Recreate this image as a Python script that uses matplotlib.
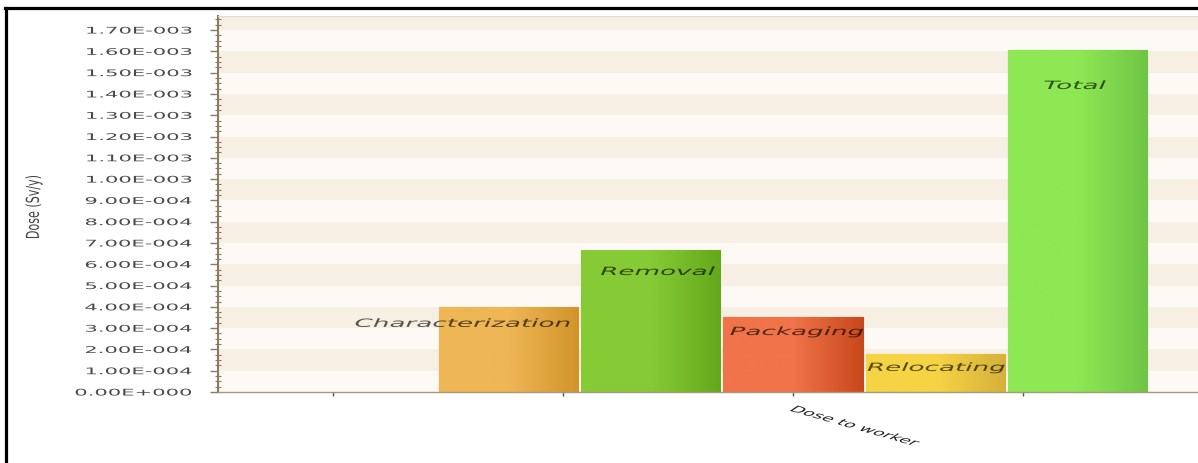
import numpy as np
import matplotlib
matplotlib.use("Agg")
import matplotlib.pyplot as plt
from matplotlib import patheffects
from matplotlib.colors import LinearSegmentedColormap
from matplotlib.lines import Line2D
from matplotlib.ticker import FixedLocator, MultipleLocator
from matplotlib.transforms import Affine2D

# --- data ---
categories = ["Dose to worker"]
stages = ["Characterization", "Removal", "Packaging", "Relocating", "Total"]
doses = [4.00e-4, 6.67e-4, 3.52e-4, 1.78e-4, 1.606e-3]
ytick_values = [i * 1e-4 for i in range(18)]
y_label = "Dose (Sv/y)"

# bar gradient colours (left, right)
grad_left = ["#EEB655", "#86CB36", "#F07349", "#F5D444", "#8DE853"]
grad_right = ["#D2942A", "#64A81B", "#C9491C", "#D5B13A", "#6FC646"]
edge_cols = ["#C28A2E", "#5E9E1C", "#BE4820", "#C9A636", "#6AAE4E"]

# where the in-bar labels sit (shift from bar centre, fraction of bar height)
label_dx = [-0.20, 0.03, 0.017, 0.005, -0.01]
label_frac = [0.80, 0.845, 0.80, 0.635, 0.895]


class Stretch(patheffects.AbstractPathEffect):
    """Stretch text in screen space (the reference image is squashed/stretched)."""

    def __init__(self, sx=1.0, sy=1.0, anchor="center"):
        super().__init__()
        self.sx, self.sy, self.anchor = sx, sy, anchor

    def draw_path(self, renderer, gc, tpath, affine, rgbFace=None):
        bb = tpath.get_extents(affine)
        if self.anchor == "right":
            x0, y0 = bb.x1, (bb.y0 + bb.y1) / 2
        elif self.anchor == "topleft":
            x0, y0 = bb.x0, bb.y1
        else:
            x0, y0 = (bb.x0 + bb.x1) / 2, (bb.y0 + bb.y1) / 2
        st = Affine2D().translate(-x0, -y0).scale(self.sx, self.sy).translate(x0, y0)
        renderer.draw_path(gc, tpath, affine + st, rgbFace)


def sci3(v):
    m, e = f"{v:.2E}".split("E")
    return f"{m}E{int(e):+04d}"


W, H = 1198, 464
fig = plt.figure(figsize=(W / 100, H / 100), dpi=100)
fig.patch.set_facecolor("white")
ax = fig.add_axes([218 / W, 71 / H, 1 - 218 / W, 376 / H])

ymax = 1.766e-3
ax.set_facecolor("#FDF9F4")
for lo in np.arange(1, 18, 2) * 1e-4:
    ax.axhspan(lo, lo + 1e-4, color="#F8EFE4", lw=0, zorder=0)

# bars with horizontal gradient
step, width = 0.618, 0.605
xs = [(i - (len(stages) - 1) / 2) * step for i in range(len(stages))]
for i, (x, v) in enumerate(zip(xs, doses)):
    bar = ax.bar(x, v, width=width, color=grad_right[i], edgecolor=edge_cols[i],
                 lw=0.8, zorder=2)[0]
    cmap = LinearSegmentedColormap.from_list("g", [grad_left[i], grad_left[i], grad_right[i]])
    im = ax.imshow(np.linspace(0, 1, 128).reshape(1, -1), cmap=cmap, aspect="auto",
                   extent=[x - width / 2, x + width / 2, 0, v], zorder=2.5,
                   interpolation="bilinear")
    im.set_clip_path(bar)
    ax.text(x + label_dx[i], v * label_frac[i], stages[i], style="italic",
            fontsize=8.2, color="black", alpha=0.65, ha="center", va="center",
            zorder=4, path_effects=[Stretch(2.3, 1.0)])

ax.set_xlim(-2.5, 1.761)
ax.set_ylim(0, ymax)

# y axis
ax.yaxis.set_major_locator(FixedLocator(ytick_values))
ax.set_yticklabels([sci3(v) for v in ytick_values])
ax.yaxis.set_minor_locator(MultipleLocator(2.5e-5))
ax.tick_params(axis="y", which="major", direction="out", length=5.8, width=1,
               color="#8C7B62", pad=13, labelsize=6.6, labelcolor="#4A4A4A")
ax.tick_params(axis="y", which="minor", direction="inout", length=4, width=0.8,
               color="#8C7B62")
for t in ax.get_yticklabels():
    t.set_path_effects([Stretch(2.3, 1.0, anchor="right")])

# x axis
ax.set_xticks([0])
ax.set_xticks([-2, -1, 1], minor=True)
ax.set_xticklabels(categories, rotation=-33, ha="left", va="top",
                   rotation_mode="anchor", fontsize=6.2, color="#222222")
ax.tick_params(axis="x", which="both", direction="out", length=3, width=1,
               color="#555555", pad=6)
for t in ax.get_xticklabels():
    t.set_path_effects([Stretch(2.3, 1.0, anchor="topleft")])

ax.spines["right"].set_visible(False)
ax.spines["left"].set_color("#8C7B62")
ax.spines["left"].set_linewidth(1.5)
ax.spines["bottom"].set_color("#A8987C")
ax.spines["bottom"].set_linewidth(1.0)
ax.spines["top"].set_color("#E4DACA")
ax.spines["top"].set_linewidth(0.8)

fig.text(34 / W, 1 - 208 / H, y_label, rotation=90, fontsize=8, color="#444444",
         ha="center", va="center", path_effects=[Stretch(1.6, 1.0)])

# black frame on top and left (cropped screenshot)
fig.add_artist(Line2D([5 / W, 1], [1 - 9 / H, 1 - 9 / H], color="black", lw=2.3,
                      transform=fig.transFigure))
fig.add_artist(Line2D([6 / W, 6 / W], [0, 1 - 9 / H], color="black", lw=2.3,
                      transform=fig.transFigure))

fig.savefig("out.png", dpi=100)
